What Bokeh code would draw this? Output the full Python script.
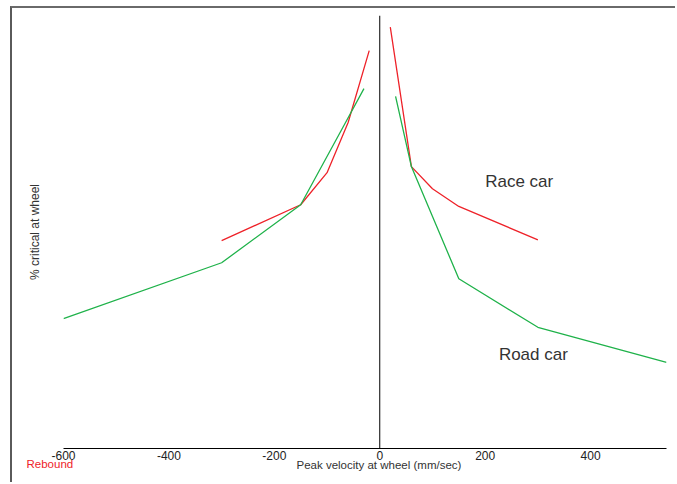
from math import pi
from bokeh.plotting import figure
from bokeh.models import Range1d, FixedTicker, Span, Label, LinearAxis, Title
from bokeh.embed import file_html
from bokeh.resources import INLINE

# ---- data (velocity mm/sec, % critical at wheel) ----
race_rebound_v = [-300, -150, -100, -60, -20]
race_rebound_c = [48.0, 56.3, 63.7, 75.3, 91.9]
race_bump_v = [20, 60, 100, 150, 300]
race_bump_c = [97.3, 65.1, 60.0, 55.9, 48.2]

road_rebound_v = [-600, -300, -150, -60, -30]
road_rebound_c = [30.0, 42.9, 56.3, 76.4, 83.1]
road_bump_v = [30, 60, 150, 300, 544]
road_bump_c = [81.3, 65.1, 39.2, 28.0, 19.9]

x_ticks = [-600, -400, -200, 0, 200, 400]
x_tick_labels = ["-600", "-400", "-200", "0", "200", "400"]

RED = "#ee2229"
GREEN = "#1fb24a"
FONT = "Liberation Sans"

p = figure(width=665, height=476, output_backend="svg", toolbar_location=None,
           x_range=Range1d(-600, 544), y_range=Range1d(0, 100),
           y_axis_type=None,
           min_border_left=51, min_border_right=11, min_border_top=7, min_border_bottom=36,
           styles={"margin-left": "10px", "margin-top": "6px",
                   "border-left": "2px solid #5a5a5a", "border-top": "2px solid #6a6a6a"})
p.outline_line_color = None
p.grid.visible = False
p.background_fill_color = "white"
p.border_fill_color = "white"

xa = p.xaxis[0]
xa.ticker = FixedTicker(ticks=x_ticks)
xa.major_label_overrides = {t: s for t, s in zip(x_ticks, x_tick_labels)}
xa.major_tick_line_color = None
xa.minor_tick_line_color = None
xa.major_tick_out = 0
xa.major_tick_in = 0
xa.axis_line_color = "black"
xa.axis_line_width = 1
xa.major_label_text_font = FONT
xa.major_label_text_font_size = "12px"
xa.major_label_text_color = "#222222"
xa.major_label_standoff = 2

ya = LinearAxis(ticker=FixedTicker(ticks=[]), axis_line_color=None,
                major_tick_line_color=None, minor_tick_line_color=None,
                major_tick_out=0, major_tick_in=0, major_label_standoff=0,
                axis_label="% critical at wheel", axis_label_text_font=FONT,
                axis_label_text_font_size="12px", axis_label_text_font_style="normal",
                axis_label_text_color="#333333", axis_label_standoff=22)
p.add_layout(ya, "left")

p.add_layout(Title(text="Peak velocity at wheel (mm/sec)", align="left", offset=233,
                   text_font=FONT, text_font_size="11.5px", text_font_style="normal",
                   text_color="#333333", standoff=-12), "below")
p.add_layout(Title(text="Rebound", align="left", offset=-37, vertical_align="top",
                   text_font=FONT, text_font_size="11.5px", text_font_style="normal",
                   text_color=RED, standoff=-14), "below")

p.add_layout(Span(location=0, dimension="height", line_color="black", line_width=1))

p.line(race_rebound_v, race_rebound_c, line_color=RED, line_width=1.3)
p.line(race_bump_v, race_bump_c, line_color=RED, line_width=1.3)
p.line(road_rebound_v, road_rebound_c, line_color=GREEN, line_width=1.3)
p.line(road_bump_v, road_bump_c, line_color=GREEN, line_width=1.3)

p.add_layout(Label(x=200, y=61.75, text="Race car", text_font=FONT, text_font_size="17px",
                   text_color="#333333", text_baseline="alphabetic", text_align="left"))
p.add_layout(Label(x=226, y=21.8, text="Road car", text_font=FONT, text_font_size="17px",
                   text_color="#333333", text_baseline="alphabetic", text_align="left"))

open("out.html", "w").write(file_html(p, INLINE))
